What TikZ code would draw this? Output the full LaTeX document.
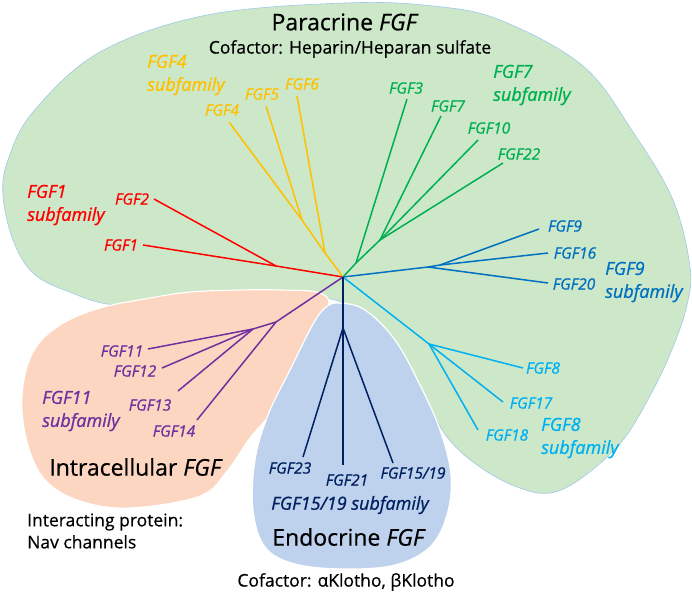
\documentclass[tikz,border=0pt]{standalone}
\usepackage{fontspec}
\setmainfont{Open Sans}
\newfontfamily\tagfont{Open Sans}[FakeBold=0.9]
\newfontfamily\headfont{Open Sans}[FakeBold=0.5]
\usetikzlibrary{calc}
\definecolor{paragreen}{RGB}{205,232,201}
\definecolor{intrasalmon}{RGB}{252,214,193}
\definecolor{endoblue}{RGB}{190,210,238}
\definecolor{rimblue}{RGB}{160,200,235}
\definecolor{fgfred}{RGB}{255,0,0}
\definecolor{fgforange}{RGB}{255,192,0}
\definecolor{fgfgreen}{RGB}{0,176,80}
\definecolor{fgfblue}{RGB}{0,112,192}
\definecolor{fgfcyan}{RGB}{0,176,240}
\definecolor{fgfpurple}{RGB}{112,48,160}
\definecolor{fgfnavy}{RGB}{0,32,96}
\tikzset{
	leaf/.style={font=\fontsize{15.5}{17}\selectfont\tagfont\itshape, inner sep=0pt},
	subfam/.style={font=\fontsize{18}{23}\selectfont\tagfont\itshape, inner sep=0pt, align=left},
	grouptitle/.style={font=\fontsize{23}{26}\selectfont\headfont, inner sep=0pt},
	cofactor/.style={font=\fontsize{17.5}{22}\selectfont\headfont, inner sep=0pt, align=left},
	branch/.style={line width=1.5pt, line join=round},
}

\begin{document}
\begin{tikzpicture}[x=1pt,y=-1pt]
		%%%%% START %%%%%
		\useasboundingbox (0,0) rectangle (692,594);
		
		% the three groups
		\draw[fill=paragreen, draw=rimblue, line width=0.6pt] plot[smooth cycle, tension=0.6] coordinates {
			(345,3) (433,6) (500,20) (583,66) (633,132) (673,200) (690,267) (687,305)
			(673,347) (653,390) (623,440) (583,477) (550,493) (517,487) (480,467)
			(447,437) (417,385) (390,345) (360,315) (335,300) (300,299) (200,299)
			(117,305) (67,291) (33,273) (13,240) (3,195) (8,160) (33,112) (100,52) (207,15)};
		\draw[fill=intrasalmon, draw=white, line width=1.2pt] plot[smooth cycle, tension=0.6] coordinates {
			(316,292) (280,290) (240,290) (190,292) (150,298) (100,308) (60,325) (33,352)
			(22,395) (27,442) (45,480) (80,501) (130,508) (200,496) (228,470) (250,438)
			(275,408) (300,362) (319,325) (329,302)};
		\draw[fill=endoblue, draw=white, line width=1.2pt] plot[smooth cycle, tension=0.6] coordinates {
			(339,303) (365,310) (395,340) (420,385) (440,430) (451,475) (447,515) (430,547)
			(395,565) (345,569) (295,564) (265,547) (253,510) (255,460) (268,415) (290,370)
			(312,326) (325,308)};
		
		% tree: root, inner points and tips
		\coordinate (root) at (343,277);
		\coordinate (r1) at (276,266);
		\coordinate (o1) at (302,220);
		\coordinate (o2) at (325,253);
		\coordinate (g1) at (356,263);
		\coordinate (g2) at (380,240);
		\coordinate (b1) at (428,267);
		\coordinate (b2) at (440,265);
		\coordinate (c1) at (429,344);
		\coordinate (p1) at (276,322);
		\coordinate (p2) at (253,329);
		\coordinate (n1) at (343,328);
		
		\coordinate (t1) at (143,245);
		\coordinate (t2) at (154,199);
		\coordinate (t4) at (229,122);
		\coordinate (t5) at (266,106);
		\coordinate (t6) at (297,96);
		\coordinate (t3) at (407,99);
		\coordinate (t7) at (441,116);
		\coordinate (t10) at (478,140);
		\coordinate (t22) at (503,163);
		\coordinate (t9) at (539,229);
		\coordinate (t16) at (548,253);
		\coordinate (t20) at (548,283);
		\coordinate (t8) at (523,368);
		\coordinate (t17) at (503,402);
		\coordinate (t18) at (478,430);
		\coordinate (t11) at (148,349);
		\coordinate (t12) at (162,368);
		\coordinate (t13) at (178,391);
		\coordinate (t14) at (197,420);
		\coordinate (t23) at (303,457);
		\coordinate (t21) at (343,465);
		\coordinate (t15) at (393,463);
		
		\draw[branch, fgfred] (root) -- (r1) -- (t1);
		\draw[branch, fgfred] (r1) -- (t2);
		
		\draw[branch, fgforange] (root) -- (o2) -- (o1) -- (t4);
		\draw[branch, fgforange] (o1) -- (t5);
		\draw[branch, fgforange] (o2) -- (t6);
		
		\draw[branch, fgfgreen] (root) -- (g1) -- (t3);
		\draw[branch, fgfgreen] (g1) -- (g2) -- (t7);
		\draw[branch, fgfgreen] (g2) -- (t10);
		\draw[branch, fgfgreen] (g2) -- (t22);
		
		\draw[branch, fgfblue] (root) -- (b1) -- (t20);
		\draw[branch, fgfblue] (b1) -- (b2) -- (t9);
		\draw[branch, fgfblue] (b2) -- (t16);
		
		\draw[branch, fgfcyan] (root) -- (c1) -- (t8);
		\draw[branch, fgfcyan] (c1) -- (t17);
		\draw[branch, fgfcyan] (c1) -- (t18);
		
		\draw[branch, fgfpurple] (root) -- (p1) -- (t14);
		\draw[branch, fgfpurple] (p1) -- (p2) -- (t11);
		\draw[branch, fgfpurple] (p2) -- (t12);
		\draw[branch, fgfpurple] (p2) -- (t13);
		
		\draw[branch, fgfnavy] (root) -- (n1) -- (t21);
		\draw[branch, fgfnavy] (n1) -- (t23);
		\draw[branch, fgfnavy] (n1) -- (t15);
		
		% leaf names
		\node[leaf, fgfred] (fgf1) at (121,245) {FGF1};
		\node[leaf, fgfred] (fgf2) at (132,199) {FGF2};
		\node[leaf, fgforange] (fgf4) at (222,110) {FGF4};
		\node[leaf, fgforange] (fgf5) at (262,94) {FGF5};
		\node[leaf, fgforange] (fgf6) at (302,84) {FGF6};
		\node[leaf, fgfgreen] (fgf3) at (406,88) {FGF3};
		\node[leaf, fgfgreen] (fgf7) at (448,106) {FGF7};
		\node[leaf, fgfgreen] (fgf10) at (489,128) {FGF10};
		\node[leaf, fgfgreen] (fgf22) at (519,154) {FGF22};
		\node[leaf, fgfblue] (fgf9) at (565,226) {FGF9};
		\node[leaf, fgfblue] (fgf16) at (575,253) {FGF16};
		\node[leaf, fgfblue] (fgf20) at (574,284) {FGF20};
		\node[leaf, fgfcyan] (fgf8) at (543,368) {FGF8};
		\node[leaf, fgfcyan] (fgf17) at (531,403) {FGF17};
		\node[leaf, fgfcyan] (fgf18) at (507,435) {FGF18};
		\node[leaf, fgfpurple] (fgf11) at (122,351) {FGF11};
		\node[leaf, fgfpurple] (fgf12) at (135,371) {FGF12};
		\node[leaf, fgfpurple] (fgf13) at (150,405) {FGF13};
		\node[leaf, fgfpurple] (fgf14) at (174,431) {FGF14};
		\node[leaf, fgfnavy] (fgf23) at (290,468) {FGF23};
		\node[leaf, fgfnavy] (fgf21) at (347,480) {FGF21};
		\node[leaf, fgfnavy] (fgf15) at (413,473) {FGF15/19};
		
		% subfamilies
		\node[subfam, fgfred, anchor=west] (sub1) at (27,205) {FGF1\\subfamily};
		\node[subfam, fgforange, anchor=west] (sub4) at (147,75) {FGF4\\subfamily};
		\node[subfam, fgfgreen, anchor=west] (sub7) at (493,85) {FGF7\\subfamily};
		\node[subfam, fgfblue, anchor=west] (sub9) at (605,282) {FGF9\\subfamily};
		\node[subfam, fgfcyan, anchor=west] (sub8) at (541,438) {FGF8\\subfamily};
		\node[subfam, fgfpurple, anchor=west] (sub11) at (42,411) {FGF11\\subfamily};
		\node[subfam, fgfnavy] (sub15) at (350,505) {FGF15/19 subfamily};
		
		% groups
		\node[grouptitle] (para) at (345,22) {Paracrine \textit{FGF}};
		\node[cofactor] (paraco) at (350,49) {Cofactor: Heparin/Heparan sulfate};
		\node[grouptitle] (intra) at (136,467) {Intracellular \textit{FGF}};
		\node[cofactor, anchor=west] (intraco) at (27,531) {Interacting protein:\\Nav channels};
		\node[grouptitle] (endo) at (349,537) {Endocrine \textit{FGF}};
		\node[cofactor] (endoco) at (346,582) {Cofactor: αKlotho, βKlotho};
		
		%%%%% END %%%%%
\end{tikzpicture}
\end{document}
